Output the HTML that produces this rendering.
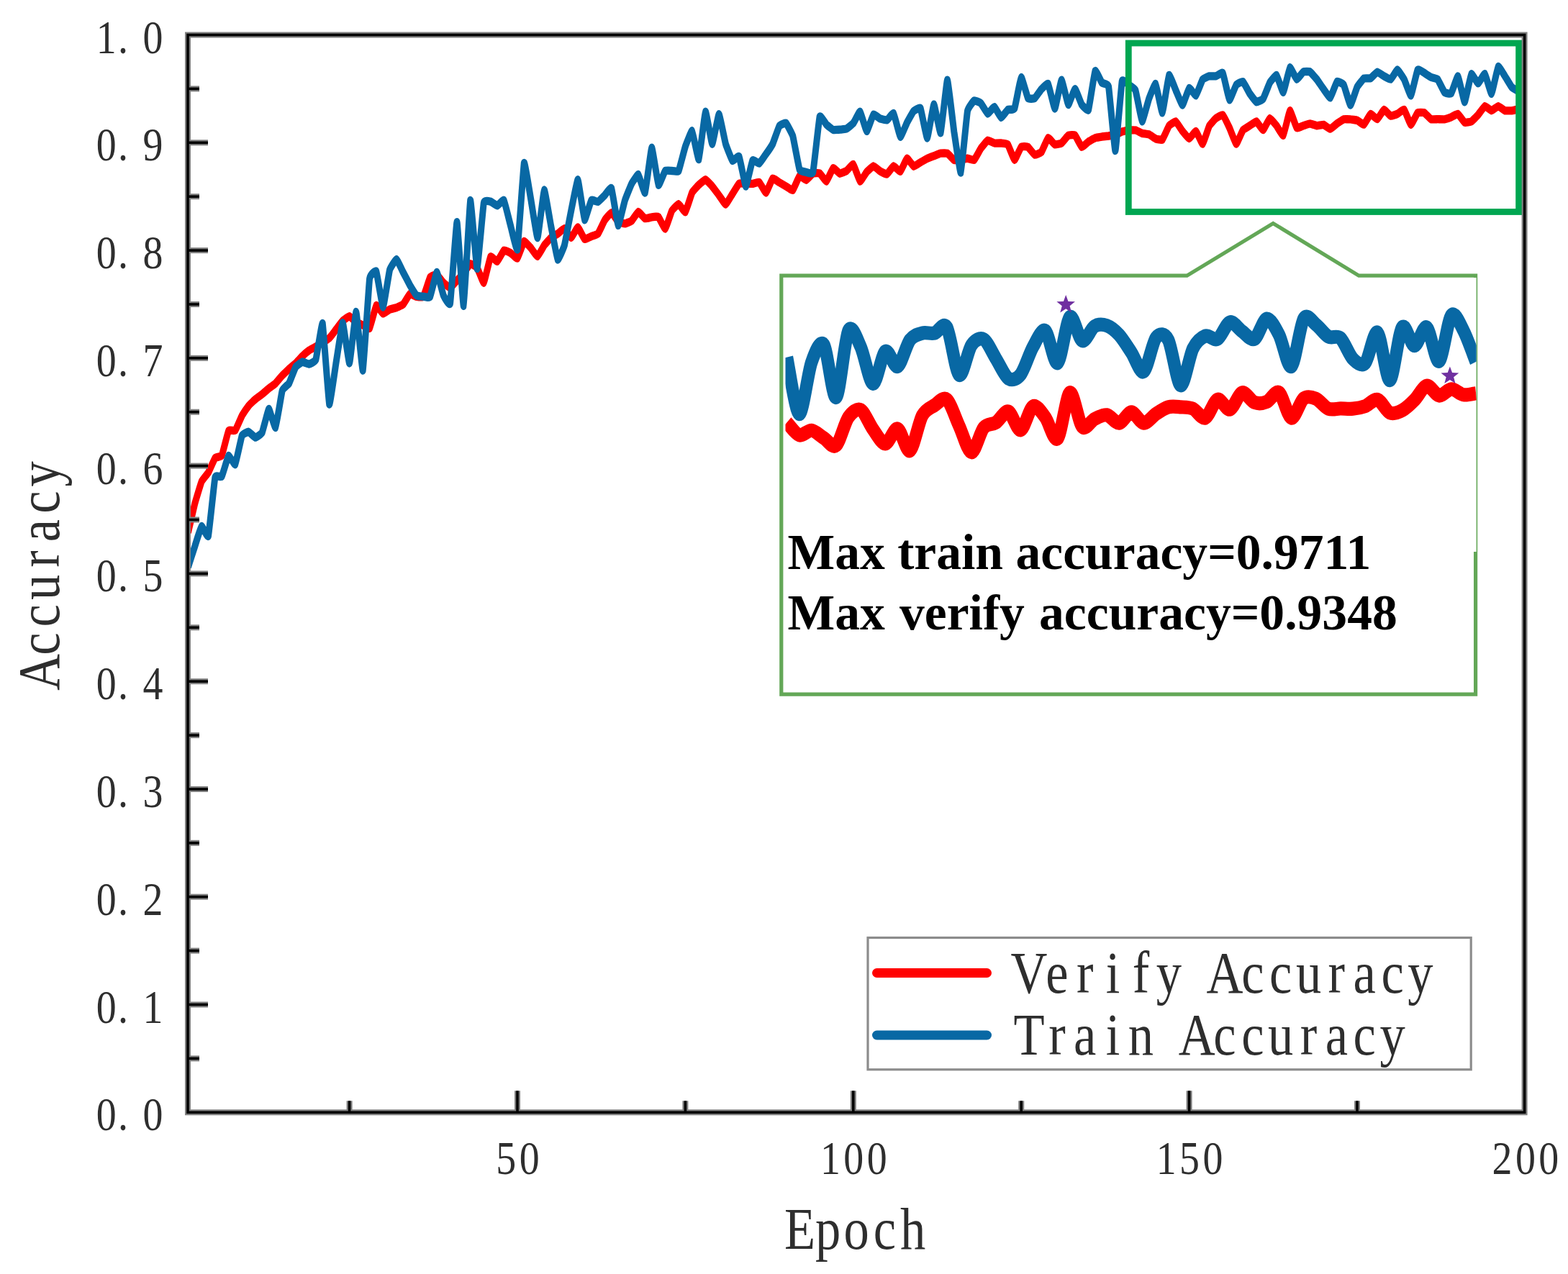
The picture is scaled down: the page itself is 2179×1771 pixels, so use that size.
<!DOCTYPE html>
<html lang="en"><head><meta charset="utf-8"><title>Accuracy vs Epoch</title>
<style>html,body{margin:0;padding:0;background:#fff}body{width:2179px;height:1771px;overflow:hidden}svg{display:block;filter:blur(0.55px)}text{font-family:"Liberation Serif","Noto Serif CJK SC",serif;fill:#2e2e2e;white-space:pre}.b{font-weight:bold;fill:#000}</style></head><body>
<svg width="2179" height="1771" viewBox="0 0 2179 1771">
<rect width="2179" height="1771" fill="#fff"/>
<clipPath id="pc"><rect x="261.0" y="48.5" width="1857.6" height="1497.8"/></clipPath>
<g clip-path="url(#pc)"><g transform="scale(1 1.260)" fill="none" stroke-linejoin="round" stroke-linecap="butt" stroke-width="9.0">
<path stroke="#ff0000" d="M261.5 587.3 C262.0 585.8 270.0 557.9 270.9 555.3 C271.7 552.7 279.3 532.7 280.2 531.1 C281.1 529.5 288.7 522.5 289.5 521.3 C290.4 520.1 298.0 506.2 298.9 505.3 C299.8 504.4 307.3 504.0 308.2 502.6 C309.1 501.2 316.7 476.6 317.6 475.3 C318.4 474.0 326.0 475.7 326.9 474.9 C327.8 474.1 335.4 460.0 336.2 458.7 C337.1 457.5 344.7 448.5 345.6 447.6 C346.4 446.8 354.0 441.1 354.9 440.5 C355.8 439.9 363.4 435.5 364.2 434.9 C365.1 434.4 372.7 429.1 373.6 428.6 C374.4 428.0 382.0 423.7 382.9 423.0 C383.8 422.3 391.4 415.0 392.2 414.3 C393.1 413.5 400.7 407.8 401.6 407.1 C402.4 406.5 410.0 401.5 410.9 400.8 C411.8 400.1 419.4 393.5 420.2 392.9 C421.1 392.2 428.7 387.0 429.6 386.5 C430.5 386.0 438.0 382.9 438.9 382.5 C439.8 382.1 447.4 378.2 448.3 377.8 C449.1 377.3 456.7 373.7 457.6 373.0 C458.5 372.3 466.1 364.4 466.9 363.5 C467.8 362.6 475.4 354.6 476.3 354.0 C477.1 353.3 484.7 348.8 485.6 348.9 C486.5 349.0 494.1 355.1 494.9 355.6 C495.8 356.0 503.4 358.4 504.3 358.7 C505.1 359.0 512.7 363.2 513.6 362.2 C514.5 361.2 522.1 337.7 522.9 337.0 C523.8 336.2 531.4 345.8 532.3 346.0 C533.2 346.2 540.7 341.6 541.6 341.3 C542.5 341.0 550.1 339.7 551.0 339.4 C551.8 339.2 559.4 336.4 560.3 335.7 C561.2 335.0 568.8 324.7 569.6 324.3 C570.5 323.9 578.1 327.2 579.0 327.3 C579.8 327.4 587.4 328.4 588.3 327.4 C589.2 326.4 596.8 307.3 597.6 306.1 C598.5 305.0 606.1 302.6 607.0 302.9 C607.8 303.1 615.4 311.2 616.3 311.9 C617.2 312.6 624.8 317.7 625.6 317.6 C626.5 317.5 634.1 310.3 635.0 309.5 C635.8 308.8 643.4 302.5 644.3 301.6 C645.2 300.7 652.8 291.2 653.6 291.0 C654.5 290.7 662.1 294.3 663.0 295.2 C663.9 296.2 671.4 312.5 672.3 311.9 C673.2 311.3 680.8 284.4 681.7 283.3 C682.5 282.2 690.1 288.7 691.0 288.4 C691.9 288.1 699.5 276.6 700.3 276.2 C701.2 275.8 708.8 278.8 709.7 279.2 C710.5 279.6 718.1 285.6 719.0 285.0 C719.9 284.4 727.5 266.9 728.3 266.3 C729.2 265.8 736.8 272.7 737.7 273.5 C738.5 274.3 746.1 283.0 747.0 282.9 C747.9 282.7 755.5 271.6 756.3 270.6 C757.2 269.7 764.8 262.8 765.7 262.2 C766.6 261.6 774.1 258.4 775.0 257.9 C775.9 257.5 783.5 251.9 784.4 252.1 C785.2 252.3 792.8 262.3 793.7 262.2 C794.6 262.2 802.2 250.6 803.0 250.7 C803.9 250.8 811.5 263.3 812.4 263.8 C813.2 264.3 820.8 261.1 821.7 260.8 C822.6 260.5 830.2 258.8 831.0 257.9 C831.9 257.1 839.5 243.9 840.4 242.9 C841.2 241.8 848.8 234.5 849.7 234.6 C850.6 234.7 858.2 243.9 859.0 244.4 C859.9 245.0 867.5 246.8 868.4 246.7 C869.2 246.7 876.8 244.3 877.7 243.7 C878.6 243.0 886.2 233.8 887.0 233.7 C887.9 233.6 895.5 240.8 896.4 241.1 C897.3 241.4 904.8 239.6 905.7 239.5 C906.6 239.4 914.2 238.8 915.1 239.4 C915.9 240.0 923.5 252.7 924.4 252.4 C925.3 252.1 932.9 233.7 933.7 232.5 C934.6 231.2 942.2 225.0 943.1 225.1 C943.9 225.1 951.5 234.5 952.4 234.0 C953.3 233.4 960.9 214.0 961.7 212.6 C962.6 211.2 970.2 204.6 971.1 204.0 C971.9 203.3 979.5 198.0 980.4 198.1 C981.3 198.2 988.9 204.7 989.7 205.6 C990.6 206.4 998.2 214.5 999.1 215.4 C1000.0 216.3 1007.5 225.5 1008.4 225.5 C1009.3 225.4 1016.9 215.0 1017.8 214.0 C1018.6 212.9 1026.2 203.1 1027.1 202.5 C1028.0 202.0 1035.6 202.7 1036.4 202.7 C1037.3 202.7 1044.9 202.8 1045.8 202.7 C1046.6 202.6 1054.2 200.6 1055.1 201.1 C1056.0 201.6 1063.6 212.9 1064.4 212.7 C1065.3 212.5 1072.9 197.4 1073.8 196.8 C1074.6 196.3 1082.2 200.9 1083.1 201.3 C1084.0 201.7 1091.6 205.2 1092.4 205.6 C1093.3 206.0 1100.9 210.4 1101.8 209.8 C1102.6 209.3 1110.2 194.6 1111.1 194.0 C1112.0 193.5 1119.6 198.7 1120.4 198.6 C1121.3 198.4 1128.9 191.6 1129.8 191.3 C1130.7 190.9 1138.2 190.8 1139.1 191.2 C1140.0 191.6 1147.6 200.3 1148.5 200.0 C1149.3 199.7 1156.9 185.8 1157.8 185.4 C1158.7 185.0 1166.3 191.4 1167.1 191.5 C1168.0 191.7 1175.6 189.0 1176.5 188.5 C1177.3 188.0 1184.9 180.7 1185.8 181.3 C1186.7 181.8 1194.3 199.6 1195.1 200.0 C1196.0 200.4 1203.6 190.5 1204.5 189.7 C1205.3 188.9 1212.9 183.3 1213.8 183.3 C1214.7 183.2 1222.3 188.5 1223.1 188.9 C1224.0 189.3 1231.6 192.3 1232.5 192.1 C1233.4 191.8 1240.9 183.4 1241.8 183.3 C1242.7 183.1 1250.3 189.6 1251.2 189.2 C1252.0 188.8 1259.6 175.0 1260.5 174.8 C1261.4 174.5 1269.0 183.4 1269.8 183.6 C1270.7 183.8 1278.3 179.5 1279.2 179.1 C1280.0 178.7 1287.6 175.3 1288.5 174.9 C1289.4 174.6 1297.0 172.3 1297.8 172.1 C1298.7 171.8 1306.3 169.3 1307.2 169.2 C1308.0 169.1 1315.6 168.9 1316.5 169.2 C1317.4 169.5 1325.0 176.2 1325.8 176.5 C1326.7 176.8 1334.3 176.3 1335.2 176.2 C1336.0 176.1 1343.6 174.7 1344.5 174.8 C1345.4 174.8 1353.0 177.0 1353.8 176.5 C1354.7 176.0 1362.3 164.5 1363.2 163.5 C1364.1 162.5 1371.6 155.2 1372.5 154.9 C1373.4 154.7 1381.0 157.8 1381.9 157.9 C1382.7 158.1 1390.3 157.9 1391.2 157.9 C1392.1 158.0 1399.7 158.4 1400.5 159.3 C1401.4 160.2 1409.0 176.4 1409.9 176.5 C1410.7 176.6 1418.3 162.7 1419.2 162.0 C1420.1 161.3 1427.7 161.7 1428.5 162.1 C1429.4 162.6 1437.0 170.5 1437.9 170.8 C1438.7 171.1 1446.3 168.7 1447.2 167.8 C1448.1 166.9 1455.7 152.5 1456.5 152.1 C1457.4 151.7 1465.0 159.2 1465.9 159.4 C1466.8 159.7 1474.3 158.4 1475.2 157.9 C1476.1 157.5 1483.7 149.8 1484.6 149.4 C1485.4 149.0 1493.0 148.6 1493.9 149.2 C1494.8 149.8 1502.4 161.9 1503.2 162.2 C1504.1 162.6 1511.7 156.8 1512.6 156.3 C1513.4 155.9 1521.0 152.5 1521.9 152.2 C1522.8 152.0 1530.4 150.9 1531.2 150.8 C1532.1 150.7 1539.7 150.1 1540.6 150.0 C1541.4 149.9 1549.0 148.6 1549.9 148.4 C1550.8 148.2 1558.4 145.5 1559.2 145.2 C1560.1 145.0 1567.7 143.7 1568.6 143.7 C1569.4 143.6 1577.0 143.4 1577.9 143.6 C1578.8 143.7 1586.4 146.8 1587.2 147.1 C1588.1 147.3 1595.7 148.0 1596.6 148.3 C1597.5 148.5 1605.0 152.7 1605.9 153.0 C1606.8 153.3 1614.4 154.8 1615.3 154.1 C1616.1 153.5 1623.7 139.7 1624.6 138.7 C1625.5 137.8 1633.1 133.8 1633.9 134.0 C1634.8 134.3 1642.4 143.8 1643.3 144.7 C1644.1 145.6 1651.7 152.9 1652.6 152.9 C1653.5 152.9 1661.1 144.5 1661.9 144.8 C1662.8 145.0 1670.4 159.1 1671.3 158.8 C1672.1 158.5 1679.7 140.1 1680.6 138.7 C1681.5 137.4 1689.1 130.9 1689.9 130.4 C1690.8 129.8 1698.4 126.4 1699.3 126.9 C1700.2 127.4 1707.7 139.6 1708.6 141.1 C1709.5 142.6 1717.1 158.7 1718.0 158.8 C1718.8 158.9 1726.4 144.4 1727.3 143.5 C1728.2 142.6 1735.8 139.2 1736.6 138.7 C1737.5 138.3 1745.1 133.8 1746.0 134.0 C1746.8 134.3 1754.4 143.6 1755.3 143.4 C1756.2 143.2 1763.8 130.7 1764.6 130.5 C1765.5 130.3 1773.1 137.8 1774.0 138.7 C1774.8 139.6 1782.4 150.1 1783.3 149.4 C1784.2 148.6 1791.8 122.5 1792.6 122.1 C1793.5 121.8 1801.1 140.3 1802.0 141.0 C1802.8 141.8 1810.4 138.9 1811.3 138.7 C1812.2 138.5 1819.8 136.4 1820.6 136.4 C1821.5 136.4 1829.1 138.6 1830.0 138.7 C1830.9 138.7 1838.4 137.5 1839.3 137.6 C1840.2 137.8 1847.8 142.3 1848.7 142.2 C1849.5 142.2 1857.1 136.8 1858.0 136.3 C1858.9 135.9 1866.5 131.8 1867.3 131.6 C1868.2 131.4 1875.8 131.6 1876.7 131.7 C1877.5 131.7 1885.1 132.5 1886.0 132.8 C1886.9 133.0 1894.5 137.8 1895.3 137.5 C1896.2 137.1 1903.8 126.0 1904.7 125.7 C1905.5 125.4 1913.1 131.7 1914.0 131.5 C1914.9 131.3 1922.5 121.1 1923.3 121.0 C1924.2 120.8 1931.8 127.7 1932.7 127.9 C1933.6 128.2 1941.1 126.0 1942.0 125.6 C1942.9 125.3 1950.5 120.4 1951.4 121.0 C1952.2 121.5 1959.8 137.3 1960.7 137.5 C1961.6 137.6 1969.2 125.1 1970.0 124.4 C1970.9 123.8 1978.5 124.1 1979.4 124.4 C1980.2 124.8 1987.8 131.3 1988.7 131.6 C1989.6 131.9 1997.2 131.5 1998.0 131.5 C1998.9 131.5 2006.5 131.7 2007.4 131.6 C2008.2 131.5 2015.8 129.5 2016.7 129.2 C2017.6 128.9 2025.2 125.4 2026.0 125.7 C2026.9 126.0 2034.5 134.7 2035.4 135.1 C2036.2 135.5 2043.8 134.4 2044.7 134.0 C2045.6 133.6 2053.2 127.6 2054.0 126.8 C2054.9 126.0 2062.5 117.4 2063.4 117.1 C2064.3 116.9 2071.8 122.0 2072.7 122.0 C2073.6 122.0 2081.2 117.1 2082.1 117.1 C2082.9 117.1 2090.5 121.8 2091.4 122.1 C2092.3 122.3 2099.9 122.1 2100.7 122.1 C2101.6 122.0 2109.2 120.7 2110.1 120.6 C2110.9 120.6 2119.0 120.6 2119.4 120.6"/>
<path stroke="#0868a4" d="M261.5 625.4 C262.0 624.3 270.0 604.5 270.9 602.4 C271.7 600.3 279.3 581.1 280.2 580.6 C281.1 580.1 288.7 593.9 289.5 591.3 C290.4 588.8 298.0 529.8 298.9 526.7 C299.8 523.7 307.3 526.8 308.2 525.6 C309.1 524.5 316.7 503.4 317.6 502.8 C318.4 502.2 326.0 513.3 326.9 512.3 C327.8 511.3 335.4 482.3 336.2 480.6 C337.1 479.0 344.7 476.3 345.6 476.4 C346.4 476.5 354.0 482.7 354.9 482.7 C355.8 482.7 363.4 478.8 364.2 477.4 C365.1 475.9 372.7 451.5 373.6 451.3 C374.4 451.0 382.0 472.7 382.9 471.7 C383.8 470.8 391.4 433.2 392.2 431.0 C393.1 428.7 400.7 424.2 401.6 423.0 C402.4 421.8 410.0 405.9 410.9 404.8 C411.8 403.7 419.4 399.4 420.2 399.2 C421.1 399.1 428.7 401.8 429.6 401.7 C430.5 401.6 438.0 398.9 438.9 396.8 C439.8 394.7 447.4 354.5 448.3 356.8 C449.1 359.1 456.7 443.9 457.6 446.0 C458.5 448.0 466.1 405.0 466.9 400.8 C467.8 396.6 475.4 356.0 476.3 356.0 C477.1 356.0 484.7 401.3 485.6 400.7 C486.5 400.2 494.1 343.8 494.9 344.1 C495.8 344.5 503.4 410.4 504.3 408.7 C505.1 407.0 512.7 312.6 513.6 307.5 C514.5 302.4 522.1 298.1 522.9 299.6 C523.8 301.1 531.4 339.0 532.3 338.9 C533.2 338.8 540.7 300.1 541.6 297.6 C542.5 295.2 550.1 286.0 551.0 286.1 C551.8 286.2 559.4 299.1 560.3 300.5 C561.2 301.8 568.8 313.4 569.6 314.6 C570.5 315.8 578.1 325.5 579.0 326.1 C579.8 326.7 587.4 327.2 588.3 327.2 C589.2 327.3 596.8 328.8 597.6 327.5 C598.5 326.3 606.1 300.4 607.0 300.3 C607.8 300.2 615.4 324.4 616.3 326.0 C617.2 327.6 624.8 338.4 625.6 334.6 C626.5 330.8 634.1 244.9 635.0 245.0 C635.8 245.1 643.4 338.6 644.3 337.5 C645.2 336.3 652.8 222.9 653.6 221.0 C654.5 219.0 662.1 296.2 663.0 296.3 C663.9 296.5 671.4 227.3 672.3 223.9 C673.2 220.4 680.8 222.2 681.7 222.4 C682.5 222.5 690.1 227.0 691.0 226.9 C691.9 226.8 699.5 219.9 700.3 221.0 C701.2 222.0 708.8 246.9 709.7 249.4 C710.5 252.0 718.1 278.3 719.0 275.1 C719.9 271.8 727.5 182.4 728.3 179.8 C729.2 177.3 736.8 215.8 737.7 219.7 C738.5 223.5 746.1 262.8 747.0 262.3 C747.9 261.8 755.5 210.2 756.3 209.6 C757.2 209.0 764.8 245.9 765.7 249.4 C766.6 253.0 774.1 285.4 775.0 286.4 C775.9 287.4 783.5 273.2 784.4 270.6 C785.2 268.1 792.8 235.8 793.7 232.5 C794.6 229.1 802.2 197.8 803.0 198.3 C803.9 198.7 811.5 241.4 812.4 242.5 C813.2 243.5 820.8 221.9 821.7 221.0 C822.6 220.0 830.2 222.9 831.0 222.6 C831.9 222.4 839.5 216.1 840.4 215.4 C841.2 214.7 848.8 206.1 849.7 207.6 C850.6 209.2 858.2 248.1 859.0 248.7 C859.9 249.4 867.5 223.3 868.4 221.1 C869.2 219.0 876.8 204.0 877.7 202.7 C878.6 201.4 886.2 192.1 887.0 192.5 C887.9 193.0 895.5 214.1 896.4 212.7 C897.3 211.3 904.8 163.3 905.7 162.9 C906.6 162.5 914.2 203.0 915.1 204.2 C915.9 205.4 923.5 189.2 924.4 188.5 C925.3 187.8 932.9 188.5 933.7 188.5 C934.6 188.5 942.2 189.7 943.1 188.5 C943.9 187.2 951.5 163.6 952.4 161.6 C953.3 159.5 960.9 143.8 961.7 144.4 C962.6 145.1 970.2 176.9 971.1 175.9 C971.9 174.9 979.5 124.0 980.4 123.2 C981.3 122.4 988.9 158.8 989.7 158.9 C990.6 159.0 998.2 126.0 999.1 126.0 C1000.0 125.9 1007.5 156.3 1008.4 158.7 C1009.3 161.1 1016.9 176.6 1017.8 177.3 C1018.6 178.0 1026.2 171.4 1027.1 172.7 C1028.0 174.0 1035.6 205.4 1036.4 205.6 C1037.3 205.8 1044.9 178.2 1045.8 177.0 C1046.6 175.8 1054.2 180.5 1055.1 180.2 C1056.0 179.8 1063.6 171.1 1064.4 170.1 C1065.3 169.1 1072.9 160.2 1073.8 158.7 C1074.6 157.3 1082.2 140.0 1083.1 138.9 C1084.0 137.8 1091.6 135.3 1092.4 135.9 C1093.3 136.4 1100.9 147.8 1101.8 150.2 C1102.6 152.6 1110.2 185.2 1111.1 187.1 C1112.0 188.9 1119.6 189.9 1120.4 190.0 C1121.3 190.1 1128.9 192.8 1129.8 189.9 C1130.7 187.1 1138.2 131.3 1139.1 128.8 C1140.0 126.4 1147.6 136.8 1148.5 137.5 C1149.3 138.1 1156.9 142.9 1157.8 143.2 C1158.7 143.4 1166.3 143.1 1167.1 143.0 C1168.0 143.0 1175.6 142.2 1176.5 141.9 C1177.3 141.6 1184.9 136.9 1185.8 136.0 C1186.7 135.2 1194.3 122.8 1195.1 123.2 C1196.0 123.6 1203.6 144.6 1204.5 144.8 C1205.3 144.9 1212.9 126.9 1213.8 126.3 C1214.7 125.6 1222.3 130.7 1223.1 131.0 C1224.0 131.2 1231.6 132.8 1232.5 132.5 C1233.4 132.3 1240.9 124.2 1241.8 125.1 C1242.7 125.9 1250.3 150.5 1251.2 151.0 C1252.0 151.4 1259.6 136.6 1260.5 135.2 C1261.4 133.9 1269.0 123.2 1269.8 122.5 C1270.7 121.7 1278.3 118.1 1279.2 119.5 C1280.0 120.9 1287.6 152.6 1288.5 152.4 C1289.4 152.2 1297.0 115.5 1297.8 115.2 C1298.7 115.0 1306.3 147.9 1307.2 146.7 C1308.0 145.4 1315.6 88.3 1316.5 88.3 C1317.4 88.2 1325.0 140.4 1325.8 145.2 C1326.7 149.9 1334.3 191.7 1335.2 190.6 C1336.0 189.6 1343.6 126.2 1344.5 122.5 C1345.4 118.7 1353.0 111.3 1353.8 111.0 C1354.7 110.6 1362.3 113.3 1363.2 114.0 C1364.1 114.6 1371.6 125.2 1372.5 125.4 C1373.4 125.6 1381.0 117.7 1381.9 117.9 C1382.7 118.1 1390.3 129.5 1391.2 129.7 C1392.1 129.8 1399.7 121.5 1400.5 121.0 C1401.4 120.6 1409.0 121.3 1409.9 119.6 C1410.7 117.9 1418.3 85.9 1419.2 85.4 C1420.1 84.9 1427.7 107.2 1428.5 108.3 C1429.4 109.3 1437.0 108.9 1437.9 108.4 C1438.7 108.0 1446.3 99.2 1447.2 98.4 C1448.1 97.7 1455.7 91.5 1456.5 92.5 C1457.4 93.5 1465.0 120.0 1465.9 119.8 C1466.8 119.6 1474.3 88.5 1475.2 88.3 C1476.1 88.1 1483.7 114.9 1484.6 115.4 C1485.4 115.9 1493.0 98.1 1493.9 98.1 C1494.8 98.1 1502.4 114.3 1503.2 115.4 C1504.1 116.5 1511.7 122.9 1512.6 121.2 C1513.4 119.5 1521.0 79.7 1521.9 78.3 C1522.8 76.9 1530.4 90.5 1531.2 91.3 C1532.1 92.1 1539.7 92.1 1540.6 95.6 C1541.4 99.1 1549.0 166.5 1549.9 166.2 C1550.8 165.9 1558.4 93.2 1559.2 89.8 C1560.1 86.5 1567.7 93.2 1568.6 93.7 C1569.4 94.1 1577.0 97.6 1577.9 99.5 C1578.8 101.4 1586.4 133.4 1587.2 133.9 C1588.1 134.3 1595.7 111.0 1596.6 109.0 C1597.5 107.1 1605.0 91.7 1605.9 92.5 C1606.8 93.2 1614.4 124.8 1615.3 124.4 C1616.1 123.9 1623.7 84.1 1624.6 82.9 C1625.5 81.8 1633.1 98.0 1633.9 99.5 C1634.8 101.1 1642.4 116.1 1643.3 116.0 C1644.1 115.9 1651.7 97.7 1652.6 97.2 C1653.5 96.7 1661.1 105.8 1661.9 105.4 C1662.8 104.9 1670.4 88.6 1671.3 87.6 C1672.1 86.6 1679.7 84.2 1680.6 84.0 C1681.5 83.9 1689.1 84.2 1689.9 84.0 C1690.8 83.9 1698.4 79.3 1699.3 80.6 C1700.2 81.8 1707.7 109.5 1708.6 110.1 C1709.5 110.7 1717.1 94.5 1718.0 93.6 C1718.8 92.6 1726.4 89.6 1727.3 90.1 C1728.2 90.5 1735.8 102.1 1736.6 103.1 C1737.5 104.1 1745.1 112.2 1746.0 112.5 C1746.8 112.7 1754.4 110.0 1755.3 109.0 C1756.2 108.1 1763.8 92.4 1764.6 91.2 C1765.5 90.0 1773.1 82.4 1774.0 82.9 C1774.8 83.4 1782.4 102.2 1783.3 101.8 C1784.2 101.4 1791.8 75.3 1792.6 74.6 C1793.5 73.9 1801.1 87.3 1802.0 87.5 C1802.8 87.8 1810.4 79.7 1811.3 79.3 C1812.2 78.9 1819.8 78.9 1820.6 79.3 C1821.5 79.7 1829.1 86.7 1830.0 87.6 C1830.9 88.5 1838.4 97.4 1839.3 98.3 C1840.2 99.3 1847.8 108.2 1848.7 107.8 C1849.5 107.4 1857.1 90.7 1858.0 90.1 C1858.9 89.4 1866.5 92.4 1867.3 93.6 C1868.2 94.8 1875.8 115.9 1876.7 116.0 C1877.5 116.1 1885.1 97.3 1886.0 96.0 C1886.9 94.6 1894.5 87.0 1895.3 86.5 C1896.2 86.1 1903.8 86.7 1904.7 86.3 C1905.5 86.0 1913.1 79.5 1914.0 79.4 C1914.9 79.3 1922.5 83.7 1923.3 84.0 C1924.2 84.4 1931.8 87.9 1932.7 87.5 C1933.6 87.2 1941.1 77.0 1942.0 77.0 C1942.9 77.0 1950.5 86.3 1951.4 87.6 C1952.2 88.9 1959.8 105.9 1960.7 105.4 C1961.6 104.9 1969.2 78.1 1970.0 77.0 C1970.9 75.8 1978.5 80.1 1979.4 80.5 C1980.2 80.9 1987.8 84.9 1988.7 85.2 C1989.6 85.6 1997.2 86.8 1998.0 87.6 C1998.9 88.4 2006.5 101.2 2007.4 101.9 C2008.2 102.6 2015.8 103.8 2016.7 103.0 C2017.6 102.2 2025.2 83.7 2026.0 84.1 C2026.9 84.6 2034.5 112.6 2035.4 112.5 C2036.2 112.3 2043.8 82.7 2044.7 81.7 C2045.6 80.8 2053.2 92.0 2054.0 92.0 C2054.9 92.0 2062.5 80.9 2063.4 81.4 C2064.3 82.0 2071.8 103.8 2072.7 103.4 C2073.6 103.0 2081.2 74.4 2082.1 73.5 C2082.9 72.6 2090.5 83.1 2091.4 84.1 C2092.3 85.2 2099.9 95.3 2100.7 96.0 C2101.6 96.8 2109.2 100.5 2110.1 100.3 C2110.9 100.1 2119.0 91.7 2119.4 91.3"/>
</g></g>
<rect x="1568.3" y="60" width="542.3" height="234.5" fill="none" stroke="#00a651" stroke-width="8.8"/>
<g stroke="#808080" stroke-width="8.0" fill="none" stroke-linecap="butt">
<rect x="261.0" y="48.5" width="1857.6" height="1497.8"/>
<line x1="261.0" y1="1471.4" x2="277.0" y2="1471.4"/>
<line x1="261.0" y1="1396.5" x2="289.0" y2="1396.5"/>
<line x1="261.0" y1="1321.6" x2="277.0" y2="1321.6"/>
<line x1="261.0" y1="1246.7" x2="289.0" y2="1246.7"/>
<line x1="261.0" y1="1171.8" x2="277.0" y2="1171.8"/>
<line x1="261.0" y1="1097.0" x2="289.0" y2="1097.0"/>
<line x1="261.0" y1="1022.1" x2="277.0" y2="1022.1"/>
<line x1="261.0" y1="947.2" x2="289.0" y2="947.2"/>
<line x1="261.0" y1="872.3" x2="277.0" y2="872.3"/>
<line x1="261.0" y1="797.4" x2="289.0" y2="797.4"/>
<line x1="261.0" y1="722.5" x2="277.0" y2="722.5"/>
<line x1="261.0" y1="647.6" x2="289.0" y2="647.6"/>
<line x1="261.0" y1="572.7" x2="277.0" y2="572.7"/>
<line x1="261.0" y1="497.8" x2="289.0" y2="497.8"/>
<line x1="261.0" y1="423.0" x2="277.0" y2="423.0"/>
<line x1="261.0" y1="348.1" x2="289.0" y2="348.1"/>
<line x1="261.0" y1="273.2" x2="277.0" y2="273.2"/>
<line x1="261.0" y1="198.3" x2="289.0" y2="198.3"/>
<line x1="261.0" y1="123.4" x2="277.0" y2="123.4"/>
<line x1="485.6" y1="1546.3" x2="485.6" y2="1530.3"/>
<line x1="719.0" y1="1546.3" x2="719.0" y2="1516.3"/>
<line x1="952.4" y1="1546.3" x2="952.4" y2="1530.3"/>
<line x1="1185.8" y1="1546.3" x2="1185.8" y2="1516.3"/>
<line x1="1419.2" y1="1546.3" x2="1419.2" y2="1530.3"/>
<line x1="1652.6" y1="1546.3" x2="1652.6" y2="1516.3"/>
<line x1="1886.0" y1="1546.3" x2="1886.0" y2="1530.3"/>
</g>
<g stroke="#000000" stroke-width="3.6" fill="none" stroke-linecap="butt">
<rect x="261.0" y="48.5" width="1857.6" height="1497.8"/>
<line x1="261.0" y1="1471.4" x2="277.0" y2="1471.4"/>
<line x1="261.0" y1="1396.5" x2="289.0" y2="1396.5"/>
<line x1="261.0" y1="1321.6" x2="277.0" y2="1321.6"/>
<line x1="261.0" y1="1246.7" x2="289.0" y2="1246.7"/>
<line x1="261.0" y1="1171.8" x2="277.0" y2="1171.8"/>
<line x1="261.0" y1="1097.0" x2="289.0" y2="1097.0"/>
<line x1="261.0" y1="1022.1" x2="277.0" y2="1022.1"/>
<line x1="261.0" y1="947.2" x2="289.0" y2="947.2"/>
<line x1="261.0" y1="872.3" x2="277.0" y2="872.3"/>
<line x1="261.0" y1="797.4" x2="289.0" y2="797.4"/>
<line x1="261.0" y1="722.5" x2="277.0" y2="722.5"/>
<line x1="261.0" y1="647.6" x2="289.0" y2="647.6"/>
<line x1="261.0" y1="572.7" x2="277.0" y2="572.7"/>
<line x1="261.0" y1="497.8" x2="289.0" y2="497.8"/>
<line x1="261.0" y1="423.0" x2="277.0" y2="423.0"/>
<line x1="261.0" y1="348.1" x2="289.0" y2="348.1"/>
<line x1="261.0" y1="273.2" x2="277.0" y2="273.2"/>
<line x1="261.0" y1="198.3" x2="289.0" y2="198.3"/>
<line x1="261.0" y1="123.4" x2="277.0" y2="123.4"/>
<line x1="485.6" y1="1546.3" x2="485.6" y2="1530.3"/>
<line x1="719.0" y1="1546.3" x2="719.0" y2="1516.3"/>
<line x1="952.4" y1="1546.3" x2="952.4" y2="1530.3"/>
<line x1="1185.8" y1="1546.3" x2="1185.8" y2="1516.3"/>
<line x1="1419.2" y1="1546.3" x2="1419.2" y2="1530.3"/>
<line x1="1652.6" y1="1546.3" x2="1652.6" y2="1516.3"/>
<line x1="1886.0" y1="1546.3" x2="1886.0" y2="1530.3"/>
</g>
<text transform="translate(131.50 1571.30)  scale(0.8600 1)" x="2.59 37.67 77.94" y="0" font-size="65.00">0.0</text>
<text transform="translate(131.50 1421.52)  scale(0.8600 1)" x="2.59 37.67 77.94" y="0" font-size="65.00">0.1</text>
<text transform="translate(131.50 1271.74)  scale(0.8600 1)" x="2.59 37.67 77.94" y="0" font-size="65.00">0.2</text>
<text transform="translate(131.50 1121.96)  scale(0.8600 1)" x="2.59 37.67 77.94" y="0" font-size="65.00">0.3</text>
<text transform="translate(131.50 972.18)  scale(0.8600 1)" x="2.59 37.67 77.94" y="0" font-size="65.00">0.4</text>
<text transform="translate(131.50 822.40)  scale(0.8600 1)" x="2.59 37.67 77.94" y="0" font-size="65.00">0.5</text>
<text transform="translate(131.50 672.62)  scale(0.8600 1)" x="2.59 37.67 77.94" y="0" font-size="65.00">0.6</text>
<text transform="translate(131.50 522.84)  scale(0.8600 1)" x="2.59 37.67 77.94" y="0" font-size="65.00">0.7</text>
<text transform="translate(131.50 373.06)  scale(0.8600 1)" x="2.59 37.67 77.94" y="0" font-size="65.00">0.8</text>
<text transform="translate(131.50 223.28)  scale(0.8600 1)" x="2.59 37.67 77.94" y="0" font-size="65.00">0.9</text>
<text transform="translate(131.50 73.50)  scale(0.8600 1)" x="2.59 37.67 77.94" y="0" font-size="65.00">1.0</text>
<text transform="translate(687.10 1632.00)  scale(0.8600 1)" x="2.59 40.26" y="0" font-size="65.00">50</text>
<text transform="translate(1137.70 1632.00)  scale(0.8600 1)" x="2.59 40.26 77.94" y="0" font-size="65.00">100</text>
<text transform="translate(1604.50 1632.00)  scale(0.8600 1)" x="2.59 40.26 77.94" y="0" font-size="65.00">150</text>
<text transform="translate(2071.30 1632.00)  scale(0.8600 1)" x="2.59 40.26 77.94" y="0" font-size="65.00">200</text>
<text transform="translate(1091.80 1736.00)  scale(0.8500 1)" x="-2.23 48.60 94.84 143.40 187.31" y="0" font-size="83.00">Epoch</text>
<text transform="translate(82.0 954.3) rotate(-90)  scale(0.8500 1)" x="-6.79 51.11 97.46 141.49 194.77 236.52 282.87 326.90" y="0" font-size="83.00">Accuracy</text>
<rect x="1206" y="1303.5" width="838.2" height="183.3" fill="#fff" stroke="#8c8c8c" stroke-width="3.2"/>
<line x1="1218.5" y1="1352.5" x2="1371.5" y2="1352.5" stroke="#ff0000" stroke-width="13" stroke-linecap="round"/>
<line x1="1218.5" y1="1439" x2="1371.5" y2="1439" stroke="#0868a4" stroke-width="13" stroke-linecap="round"/>
<text transform="translate(1410.60 1380.00)  scale(0.8500 1)" x="-7.12 50.14 100.44 148.44 191.86 230.63 286.71 312.82 370.08 415.79 459.16 511.80 552.90 598.61 641.99" y="0" font-size="83.00">Verify Accuracy</text>
<text transform="translate(1410.60 1466.00)  scale(0.8500 1)" x="-2.50 54.74 95.85 148.44 184.93 241.01 267.12 324.37 370.08 413.46 466.09 507.20 552.90 596.28" y="0" font-size="83.00">Train Accuracy</text>
<path d="M1085.8 383.1 H1649.5 L1769.2 310.5 L1888.3 383.1 H2050.6 V965.2 H1085.8 Z" fill="#fff" stroke="#63a757" stroke-width="5.2" stroke-linejoin="miter"/>
<rect x="1091.5" y="386" width="960.1" height="381" fill="#fff"/>
<clipPath id="ic"><rect x="1091.5" y="386" width="960.1" height="381"/></clipPath>
<g clip-path="url(#ic)"><g transform="scale(1 1.100)" fill="none" stroke-linejoin="round" stroke-linecap="butt" stroke-width="17.5">
<path stroke="#ff0000" d="M1093.5 533.9 C1096.1 536.3 1105.5 548.4 1110.6 549.9 C1115.7 551.4 1122.6 543.4 1127.7 543.9 C1132.8 544.4 1139.7 550.6 1144.8 553.5 C1149.9 556.3 1156.8 566.8 1161.9 562.9 C1167.0 559.0 1173.9 534.1 1179.0 527.4 C1184.1 520.6 1191.0 515.6 1196.1 517.9 C1201.2 520.2 1208.1 536.1 1213.2 542.5 C1218.3 549.0 1225.2 560.8 1230.3 560.7 C1235.4 560.6 1242.3 540.5 1247.4 541.8 C1252.5 543.1 1259.4 571.9 1264.5 569.5 C1269.6 567.0 1276.5 533.8 1281.6 525.2 C1286.7 516.6 1293.6 515.2 1298.7 512.2 C1303.8 509.1 1310.7 501.0 1315.8 504.9 C1320.9 508.8 1327.8 528.2 1332.9 538.2 C1338.0 548.2 1344.9 571.3 1350.0 571.6 C1355.1 572.0 1362.0 546.1 1367.1 540.5 C1372.2 534.8 1379.1 537.0 1384.2 533.9 C1389.3 530.9 1396.2 518.7 1401.3 520.1 C1406.4 521.5 1413.3 544.3 1418.4 543.4 C1423.5 542.4 1430.4 515.9 1435.5 513.5 C1440.6 511.1 1447.5 521.3 1452.6 527.4 C1457.7 533.5 1464.6 559.0 1469.7 554.3 C1474.8 549.6 1481.7 498.5 1486.8 496.2 C1491.9 493.9 1498.8 534.1 1503.9 539.1 C1509.0 544.1 1515.9 531.8 1521.0 529.5 C1526.1 527.3 1533.0 523.6 1538.1 524.4 C1543.2 525.1 1550.1 535.2 1555.2 534.7 C1560.3 534.2 1567.2 520.9 1572.3 520.9 C1577.4 520.9 1584.3 534.4 1589.4 534.7 C1594.5 535.0 1601.4 526.1 1606.5 523.0 C1611.6 519.9 1618.5 515.7 1623.6 514.4 C1628.7 513.1 1635.6 514.0 1640.7 514.4 C1645.8 514.7 1652.7 514.5 1657.8 516.5 C1662.9 518.6 1669.8 529.9 1674.9 528.2 C1680.0 526.4 1686.9 506.5 1692.0 504.9 C1697.1 503.3 1704.0 518.7 1709.1 517.4 C1714.2 516.1 1721.1 497.5 1726.2 496.2 C1731.3 494.9 1738.2 506.9 1743.3 508.6 C1748.4 510.4 1755.3 509.7 1760.4 507.8 C1765.5 505.9 1772.4 493.1 1777.5 496.2 C1782.6 499.2 1789.5 527.1 1794.6 528.2 C1799.7 529.3 1806.6 507.2 1811.7 503.5 C1816.8 499.9 1823.7 501.9 1828.8 503.8 C1833.9 505.8 1840.8 514.7 1845.9 516.5 C1851.0 518.4 1857.9 516.3 1863.0 516.3 C1868.1 516.3 1875.0 517.0 1880.1 516.5 C1885.2 516.1 1892.1 515.0 1897.2 513.3 C1902.3 511.5 1909.2 503.7 1914.3 504.9 C1919.4 506.2 1926.3 519.6 1931.4 521.6 C1936.5 523.7 1943.4 521.1 1948.5 518.7 C1953.6 516.3 1960.5 510.3 1965.6 505.6 C1970.7 501.0 1977.6 488.4 1982.7 487.5 C1987.8 486.7 1994.7 499.4 1999.8 500.0 C2004.9 500.6 2011.8 492.0 2016.9 491.8 C2022.0 491.7 2028.9 498.1 2034.0 498.9 C2039.1 499.7 2048.5 497.3 2051.1 497.0"/>
<path stroke="#0868a4" d="M1093.5 451.5 C1096.1 462.2 1105.5 522.2 1110.6 523.2 C1115.7 524.1 1122.6 471.1 1127.7 457.9 C1132.8 444.8 1139.7 428.8 1144.8 435.5 C1149.9 442.1 1156.8 504.8 1161.9 502.2 C1167.0 499.6 1173.9 427.6 1179.0 418.0 C1184.1 408.4 1191.0 428.3 1196.1 438.4 C1201.2 448.4 1208.1 484.0 1213.2 484.8 C1218.3 485.7 1225.2 447.3 1230.3 444.1 C1235.4 440.8 1242.3 465.2 1247.4 463.1 C1252.5 460.9 1259.4 436.0 1264.5 429.7 C1269.6 423.4 1276.5 422.3 1281.6 421.0 C1286.7 419.7 1293.6 422.1 1298.7 421.0 C1303.8 419.9 1310.7 405.8 1315.8 413.7 C1320.9 421.7 1327.8 470.5 1332.9 473.9 C1338.0 477.3 1344.9 442.9 1350.0 436.2 C1355.1 429.4 1362.0 426.3 1367.1 428.9 C1372.2 431.5 1379.1 446.1 1384.2 453.5 C1389.3 460.9 1396.2 475.3 1401.3 478.3 C1406.4 481.2 1413.3 479.1 1418.4 473.1 C1423.5 467.1 1430.4 446.6 1435.5 438.4 C1440.6 430.1 1447.5 414.9 1452.6 418.0 C1457.7 421.1 1464.6 461.3 1469.7 458.7 C1474.8 456.1 1481.7 404.9 1486.8 400.6 C1491.9 396.4 1498.8 428.8 1503.9 430.5 C1509.0 432.3 1515.9 415.2 1521.0 412.4 C1526.1 409.5 1533.0 409.9 1538.1 411.5 C1543.2 413.2 1550.1 418.1 1555.2 423.2 C1560.3 428.3 1567.2 438.5 1572.3 445.5 C1577.4 452.4 1584.3 472.4 1589.4 469.5 C1594.5 466.7 1601.4 432.7 1606.5 426.7 C1611.6 420.8 1618.5 420.7 1623.6 429.7 C1628.7 438.8 1635.6 485.3 1640.7 486.9 C1645.8 488.5 1652.7 449.9 1657.8 440.5 C1662.9 431.2 1669.8 426.4 1674.9 424.5 C1680.0 422.7 1686.9 431.0 1692.0 428.4 C1697.1 425.8 1704.0 408.6 1709.1 407.2 C1714.2 405.7 1721.1 415.6 1726.2 418.8 C1731.3 422.0 1738.2 430.8 1743.3 428.4 C1748.4 426.0 1755.3 403.6 1760.4 402.8 C1765.5 402.0 1772.4 414.1 1777.5 423.2 C1782.6 432.2 1789.5 466.1 1794.6 463.1 C1799.7 460.0 1806.6 410.8 1811.7 402.8 C1816.8 394.9 1823.7 406.8 1828.8 410.2 C1833.9 413.6 1840.8 422.8 1845.9 425.4 C1851.0 428.0 1857.9 423.3 1863.0 427.5 C1868.1 431.8 1875.0 448.9 1880.1 453.5 C1885.2 458.2 1892.1 463.7 1897.2 458.7 C1902.3 453.7 1909.2 416.9 1914.3 420.2 C1919.4 423.4 1926.3 481.4 1931.4 480.5 C1936.5 479.5 1943.4 420.2 1948.5 413.7 C1953.6 407.2 1960.5 437.0 1965.6 437.0 C1970.7 437.0 1977.6 410.8 1982.7 413.7 C1987.8 416.7 1994.7 458.8 1999.8 456.5 C2004.9 454.3 2011.8 404.3 2016.9 398.5 C2022.0 392.8 2028.9 409.4 2034.0 418.2 C2039.1 427.0 2048.5 451.4 2051.1 457.3"/>
</g></g>
<polygon points="1481.2,410.0 1484.5,418.9 1494.0,419.3 1486.6,425.3 1489.1,434.4 1481.2,429.2 1473.3,434.4 1475.8,425.3 1468.4,419.3 1477.9,418.9" fill="#7030a0"/>
<polygon points="2014.9,509.5 2018.1,518.1 2027.3,518.5 2020.1,524.2 2022.5,533.0 2014.9,528.0 2007.3,533.0 2009.7,524.2 2002.5,518.5 2011.7,518.1" fill="#7030a0"/>
<text class="b" x="1094.5" y="790.5" font-size="69.6">Max train accuracy=0.9711</text>
<text class="b" x="1094.5" y="875.3" font-size="69.6" style="word-spacing:2.8px">Max verify accuracy=0.9348</text>
</svg></body></html>
